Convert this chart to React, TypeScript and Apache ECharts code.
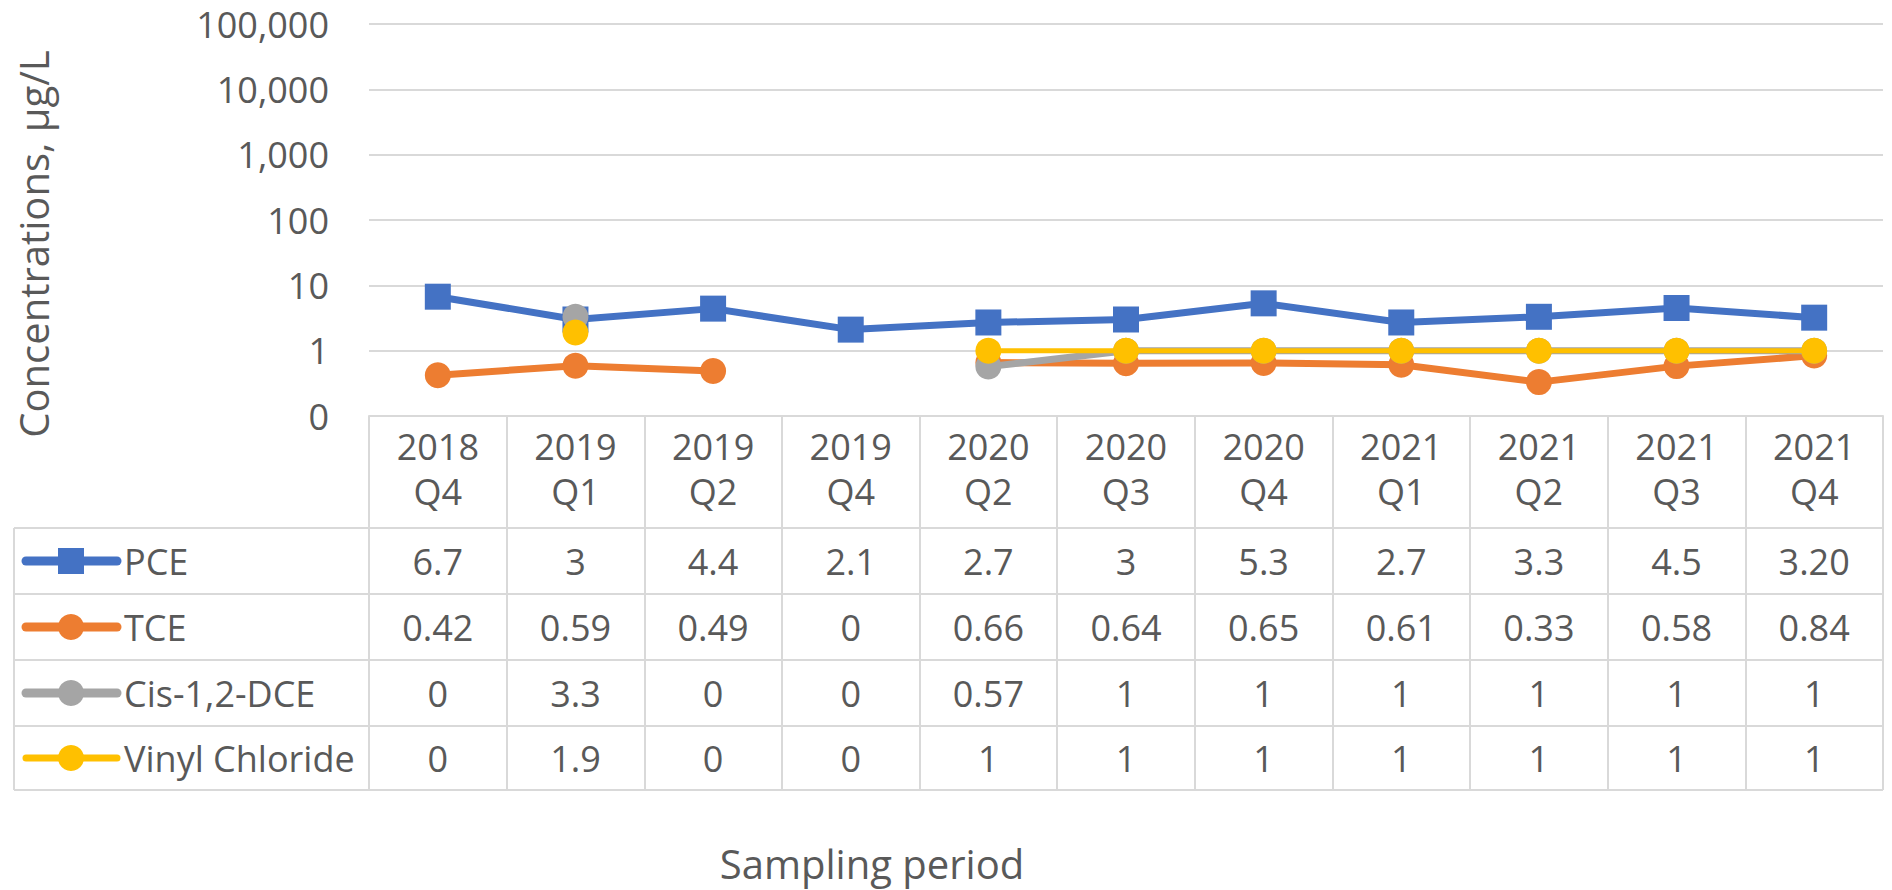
import React, { useEffect, useRef } from "react";
import * as echarts from "echarts";

const categories = ["2018 Q4", "2019 Q1", "2019 Q2", "2019 Q4", "2020 Q2", "2020 Q3", "2020 Q4", "2021 Q1", "2021 Q2", "2021 Q3", "2021 Q4"];
const seriesNames = ["PCE", "TCE", "Cis-1,2-DCE", "Vinyl Chloride"];
const pce = [6.7, 3, 4.4, 2.1, 2.7, 3, 5.3, 2.7, 3.3, 4.5, 3.2];
const tce = [0.42, 0.59, 0.49, 0, 0.66, 0.64, 0.65, 0.61, 0.33, 0.58, 0.84];
const cis = [0, 3.3, 0, 0, 0.57, 1, 1, 1, 1, 1, 1];
const vinyl = [0, 1.9, 0, 0, 1, 1, 1, 1, 1, 1, 1];
const pceText = ["6.7", "3", "4.4", "2.1", "2.7", "3", "5.3", "2.7", "3.3", "4.5", "3.20"];
const yTicks = [0.1, 1, 10, 100, 1000, 10000, 100000];

const colors = ["#4472C4", "#ED7D31", "#A5A5A5", "#FFC000"];
const lineWidths = [7, 7, 7, 5];
const symbols = ["rect", "circle", "circle", "circle"];
const FONT = "'Open Sans', 'Noto Sans', sans-serif";
const TXT = "#595959";
const GRIDC = "#D9D9D9";

const PLOT_L = 369;
const PLOT_R = 1883;
const PLOT_T = 24;
const PLOT_B = 416;
const TABLE_L = 14;
const ROW_Y = [528, 594, 660, 726, 790];

export default function App() {
  const ref = useRef<HTMLDivElement>(null);
  useEffect(() => {
    if (!ref.current) return;
    const chart = echarts.init(ref.current, undefined, { renderer: "svg" });
    const all = [pce, tce, cis, vinyl];
    chart.setOption({
      animation: false,
      textStyle: { fontFamily: FONT },
      grid: { left: PLOT_L, right: 1892 - PLOT_R, top: PLOT_T, bottom: 890 - PLOT_B, containLabel: false },
      xAxis: {
        type: "category",
        data: categories,
        boundaryGap: true,
        axisLine: { show: true, lineStyle: { color: GRIDC, width: 2 } },
        axisTick: { show: true, interval: 0, length: ROW_Y[4] - PLOT_B, lineStyle: { color: GRIDC, width: 2 } },
        axisLabel: {
          interval: 0,
          margin: 8,
          color: TXT,
          fontFamily: FONT,
          fontSize: 36,
          lineHeight: 45,
          formatter: (v: string) => v.replace(" ", "\n"),
        },
        splitLine: { show: false },
      },
      yAxis: {
        type: "log",
        logBase: 10,
        min: yTicks[0],
        max: yTicks[yTicks.length - 1],
        axisLine: { show: false },
        axisTick: { show: false },
        splitLine: { show: true, lineStyle: { color: GRIDC, width: 2 } },
        axisLabel: {
          margin: 40,
          color: TXT,
          fontFamily: FONT,
          fontSize: 36,
          formatter: (v: number) => (v < 1 ? "0" : Math.round(v).toLocaleString("en-US")),
        },
      },
      series: all.map((arr, i) => ({
        name: seriesNames[i],
        type: "line",
        data: arr.map((v) => (v === 0 ? null : v)),
        connectNulls: false,
        symbol: symbols[i],
        symbolSize: 26,
        showSymbol: true,
        lineStyle: { color: colors[i], width: lineWidths[i] },
        itemStyle: { color: colors[i] },
        z: 2 + i,
      })),
    });

    const xs = categories.map((_, i) => chart.convertToPixel({ xAxisIndex: 0 }, i) as number);
    const graphics: any[] = [];
    ROW_Y.forEach((y) => {
      graphics.push({ type: "line", shape: { x1: TABLE_L, y1: y, x2: PLOT_R, y2: y }, style: { stroke: GRIDC, lineWidth: 2 }, silent: true });
    });
    graphics.push({ type: "line", shape: { x1: TABLE_L, y1: ROW_Y[0], x2: TABLE_L, y2: ROW_Y[4] }, style: { stroke: GRIDC, lineWidth: 2 }, silent: true });
    const rowTexts = [pceText, tce.map(String), cis.map(String), vinyl.map(String)];
    for (let r = 0; r < 4; r++) {
      const cy = (ROW_Y[r] + ROW_Y[r + 1]) / 2;
      graphics.push({ type: "line", shape: { x1: 26, y1: cy, x2: 117, y2: cy }, style: { stroke: colors[r], lineWidth: lineWidths[r] + 2, lineCap: "round" }, silent: true });
      if (symbols[r] === "rect") {
        graphics.push({ type: "rect", shape: { x: 71 - 13, y: cy - 13, width: 26, height: 26 }, style: { fill: colors[r] }, silent: true });
      } else {
        graphics.push({ type: "circle", shape: { cx: 71, cy, r: 13 }, style: { fill: colors[r] }, silent: true });
      }
      graphics.push({ type: "text", x: 124, y: cy, style: { text: seriesNames[r], fill: TXT, font: `36px ${FONT}`, align: "left", verticalAlign: "middle" }, silent: true });
      rowTexts[r].forEach((t, i) => {
        graphics.push({ type: "text", x: xs[i], y: cy, style: { text: t, fill: TXT, font: `36px ${FONT}`, align: "center", verticalAlign: "middle" }, silent: true });
      });
    }
    graphics.push({ type: "text", x: 33, y: 244, rotation: Math.PI / 2, style: { text: "Concentrations, µg/L", fill: TXT, font: `40px ${FONT}`, align: "center", verticalAlign: "middle" }, silent: true });
    graphics.push({ type: "text", x: 872, y: 863, style: { text: "Sampling period", fill: TXT, font: `40px ${FONT}`, align: "center", verticalAlign: "middle" }, silent: true });
    chart.setOption({ graphic: graphics });

    return () => chart.dispose();
  }, []);
  return <div ref={ref} style={{ position: "fixed", left: 0, top: 0, width: 1892, height: 890, background: "#fff" }} />;
}
